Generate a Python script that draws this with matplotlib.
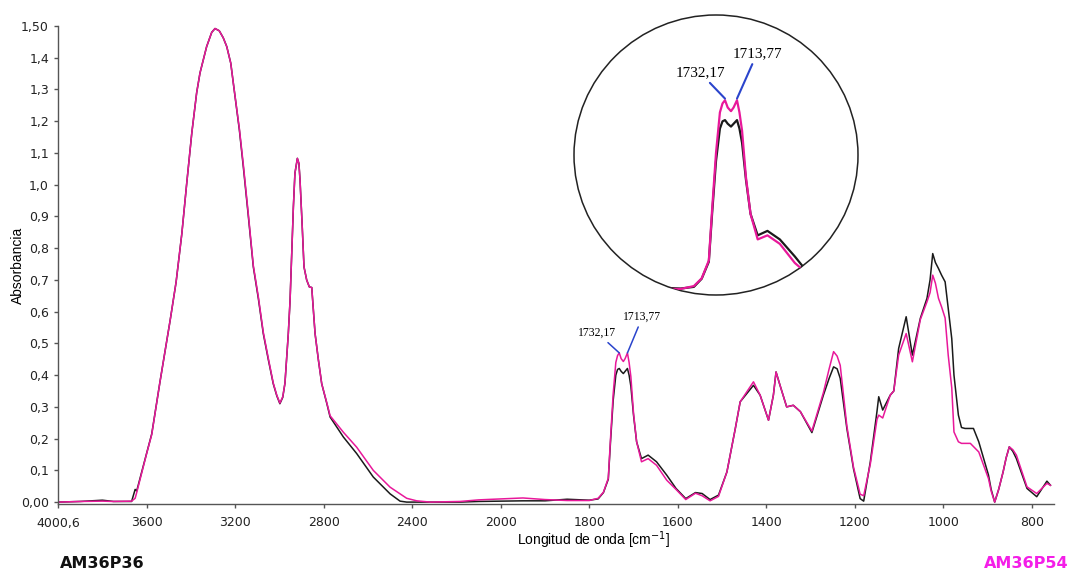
import numpy as np
import matplotlib.pyplot as plt
from matplotlib.patches import Ellipse

# FTIR spectra, absorbance vs wavenumber (cm-1)
wavenumber = [4000.6, 3900, 3800, 3750, 3668, 3652, 3645, 3615, 3600, 3577,
              3540, 3517, 3494, 3467, 3441, 3419, 3396, 3374, 3359, 3329,
              3314, 3306, 3291, 3272, 3254, 3238, 3220, 3208, 3181, 3163,
              3141, 3118, 3095, 3073, 3050, 3028, 3012, 2998, 2985, 2975,
              2960, 2952, 2937, 2930, 2919, 2912, 2907, 2897, 2889, 2877,
              2865, 2854, 2839, 2824, 2809, 2786, 2771, 2711, 2651, 2576,
              2500, 2455, 2425, 2380, 2319, 2184, 2100, 2000, 1950, 1900,
              1850, 1800, 1780, 1768, 1757, 1752, 1746, 1740, 1736, 1732.17,
              1728, 1723, 1719, 1713.77, 1710, 1706, 1700, 1693, 1682, 1667,
              1648, 1625, 1604, 1582, 1560, 1545, 1527, 1508, 1489, 1470,
              1459, 1429, 1414, 1395, 1384, 1378, 1369, 1354, 1339, 1323,
              1297, 1271, 1258, 1248, 1240, 1233, 1218, 1203, 1188, 1180,
              1165, 1150, 1146, 1137, 1120, 1112, 1101, 1084, 1070, 1052,
              1037, 1030, 1024, 1018, 1011, 1004, 996, 989, 981, 976,
              966, 959, 951, 939, 932, 920, 898, 892, 884, 875,
              865, 858, 851, 843, 835, 811, 789, 766, 758]

abs_am36p36 = [0.000, 0.002, 0.006, 0.002, 0.002, 0.040, 0.035, 0.115, 0.155, 0.215,
               0.378, 0.476, 0.572, 0.693, 0.846, 1.004, 1.163, 1.290, 1.352, 1.435,
               1.465, 1.480, 1.492, 1.485, 1.463, 1.435, 1.383, 1.318, 1.172, 1.055,
               0.904, 0.741, 0.640, 0.531, 0.448, 0.373, 0.335, 0.310, 0.330, 0.375,
               0.530, 0.635, 0.930, 1.036, 1.083, 1.067, 1.015, 0.868, 0.741, 0.700,
               0.678, 0.676, 0.531, 0.448, 0.373, 0.311, 0.268, 0.205, 0.153, 0.079,
               0.026, 0.003, 0.000, 0.000, 0.000, 0.000, 0.002, 0.003, 0.004, 0.004,
               0.009, 0.006, 0.010, 0.030, 0.072, 0.190, 0.320, 0.400, 0.418, 0.421,
               0.412, 0.405, 0.412, 0.421, 0.400, 0.365, 0.274, 0.190, 0.137, 0.148,
               0.127, 0.085, 0.043, 0.011, 0.030, 0.027, 0.008, 0.022, 0.095, 0.232,
               0.316, 0.368, 0.337, 0.258, 0.337, 0.410, 0.368, 0.300, 0.305, 0.285,
               0.219, 0.337, 0.390, 0.426, 0.420, 0.390, 0.232, 0.105, 0.011, 0.003,
               0.127, 0.285, 0.332, 0.290, 0.337, 0.350, 0.484, 0.584, 0.463, 0.579,
               0.642, 0.700, 0.783, 0.755, 0.736, 0.715, 0.694, 0.610, 0.515, 0.400,
               0.274, 0.235, 0.232, 0.232, 0.232, 0.190, 0.085, 0.040, 0.000, 0.040,
               0.095, 0.140, 0.174, 0.160, 0.137, 0.043, 0.017, 0.066, 0.053]

abs_am36p54 = [0.000, 0.002, 0.003, 0.002, 0.003, 0.012, 0.030, 0.112, 0.153, 0.213,
               0.378, 0.476, 0.572, 0.693, 0.846, 1.004, 1.163, 1.290, 1.352, 1.435,
               1.465, 1.480, 1.492, 1.485, 1.463, 1.435, 1.383, 1.318, 1.176, 1.062,
               0.910, 0.745, 0.645, 0.535, 0.452, 0.375, 0.337, 0.312, 0.332, 0.375,
               0.530, 0.635, 0.930, 1.036, 1.083, 1.067, 1.015, 0.868, 0.741, 0.700,
               0.678, 0.676, 0.531, 0.448, 0.373, 0.313, 0.272, 0.220, 0.173, 0.100,
               0.047, 0.026, 0.012, 0.004, 0.000, 0.002, 0.007, 0.010, 0.013, 0.008,
               0.005, 0.005, 0.012, 0.031, 0.075, 0.200, 0.340, 0.440, 0.462, 0.470,
               0.452, 0.443, 0.452, 0.470, 0.440, 0.395, 0.280, 0.190, 0.127, 0.137,
               0.116, 0.069, 0.040, 0.008, 0.028, 0.020, 0.004, 0.018, 0.095, 0.232,
               0.316, 0.379, 0.337, 0.258, 0.337, 0.410, 0.368, 0.300, 0.305, 0.285,
               0.224, 0.345, 0.420, 0.474, 0.460, 0.431, 0.240, 0.110, 0.025, 0.020,
               0.120, 0.260, 0.274, 0.265, 0.337, 0.350, 0.463, 0.531, 0.442, 0.575,
               0.631, 0.660, 0.715, 0.690, 0.642, 0.615, 0.580, 0.463, 0.360, 0.221,
               0.190, 0.185, 0.185, 0.185, 0.175, 0.158, 0.074, 0.035, 0.000, 0.040,
               0.095, 0.140, 0.174, 0.165, 0.148, 0.048, 0.027, 0.059, 0.053]

x_ticks = [4000.6, 3600, 3200, 2800, 2400, 2000, 1800, 1600, 1400, 1200, 1000, 800]
x_ticklabels = ["4000,6", "3600", "3200", "2800", "2400", "2000",
                "1800", "1600", "1400", "1200", "1000", "800"]
y_ticks = [0.0, 0.1, 0.2, 0.3, 0.4, 0.5, 0.6, 0.7, 0.8, 0.9, 1.0, 1.1, 1.2, 1.3, 1.4, 1.5]
y_ticklabels = ["0,00", "0,1", "0,2", "0,3", "0,4", "0,5", "0,6", "0,7", "0,8",
                "0,9", "1,0", "1,1", "1,2", "1,3", "1,4", "1,50"]

peak_labels = ["1732,17", "1713,77"]
peak_pos = [1732.17, 1713.77]
peak_abs = [0.470, 0.470]

BLACK = "#1a1a1a"
MAGENTA = "#e8189a"
BLUE = "#2a44cc"


# x axis is stretched 2x below 2000 cm-1
def fwd(w):
    w = np.asarray(w, dtype=float)
    return np.where(w >= 2000, w, 2 * w - 2000)


def inv(u):
    u = np.asarray(u, dtype=float)
    return np.where(u >= 2000, u, (u + 2000) / 2)


fig = plt.figure(figsize=(10.68, 5.70), dpi=100)
ax = fig.add_axes([58 / 1068, 66 / 570, 996 / 1068, 478 / 570])
ax.set_xscale("function", functions=(fwd, inv))

ax.plot(wavenumber, abs_am36p36, color=BLACK, lw=1.1, solid_joinstyle="round")
ax.plot(wavenumber, abs_am36p54, color=MAGENTA, lw=1.1, solid_joinstyle="round")

ax.set_xlim(4000.6, 750)
ax.set_ylim(-0.006, 1.5)

ax.set_xticks(x_ticks)
ax.set_xticklabels(x_ticklabels)
ax.set_yticks(y_ticks)
ax.set_yticklabels(y_ticklabels)
ax.minorticks_off()
ax.tick_params(axis="both", direction="out", length=3, width=1, color="#555555",
               labelsize=9, labelcolor="#222222")
ax.tick_params(axis="x", pad=6)

for s in ["top", "right"]:
    ax.spines[s].set_visible(False)
for s in ["left", "bottom"]:
    ax.spines[s].set_color("#555555")
    ax.spines[s].set_linewidth(1)

ax.set_xlabel("Longitud de onda [cm$^{-1}$]", family="Liberation Sans", fontsize=10)
ax.xaxis.set_label_coords(0.538, -0.053)
ax.set_ylabel("Absorbancia", family="Liberation Sans", fontsize=10)
ax.yaxis.set_label_coords(-0.033, 0.5)

# peak labels on the main spectrum
offsets_main = [(-22, 20), (15, 36)]
for lab, px, py, off in zip(peak_labels, peak_pos, peak_abs, offsets_main):
    ax.annotate(lab, xy=(px, py), xytext=off, textcoords="offset pixels",
                ha="center", va="center", family="Liberation Serif", fontsize=8.5,
                arrowprops=dict(arrowstyle="-", color=BLUE, lw=1.1, shrinkA=1, shrinkB=0))

# magnified view of the carbonyl band inside a circle
ins = fig.add_axes([574 / 1068, 275 / 570, 284 / 1068, 280 / 570])
ins.set_xlim(1964, 1528)
ins.set_ylim(-0.01, 0.68)
ins.axis("off")
ring = Ellipse((0.5, 0.5), 1, 1, transform=ins.transAxes, fill=False,
               ec="#222222", lw=1.1)
ins.add_patch(ring)
ring.set_clip_on(False)
l1, = ins.plot(wavenumber, abs_am36p36, color=BLACK, lw=1.6, solid_joinstyle="round")
l2, = ins.plot(wavenumber, abs_am36p54, color=MAGENTA, lw=1.6, solid_joinstyle="round")
l1.set_clip_path(ring)
l2.set_clip_path(ring)

offsets_ins = [(-25, 26), (20, 45)]
for lab, px, py, off in zip(peak_labels, peak_pos, peak_abs, offsets_ins):
    ins.annotate(lab, xy=(px, py + 0.004), xytext=off, textcoords="offset pixels",
                 ha="center", va="center", family="Liberation Serif", fontsize=11,
                 arrowprops=dict(arrowstyle="-", color=BLUE, lw=1.5, shrinkA=1, shrinkB=0))

# sample names
fig.text(102 / 1068, 1 - 564 / 570, "AM36P36", ha="center", va="center",
         fontsize=11.5, fontweight="bold", color="#111111")
fig.text(1026 / 1068, 1 - 563 / 570, "AM36P54", ha="center", va="center",
         fontsize=11.5, fontweight="bold", color="#f41ee8")

fig.savefig("out.png", dpi=100)
